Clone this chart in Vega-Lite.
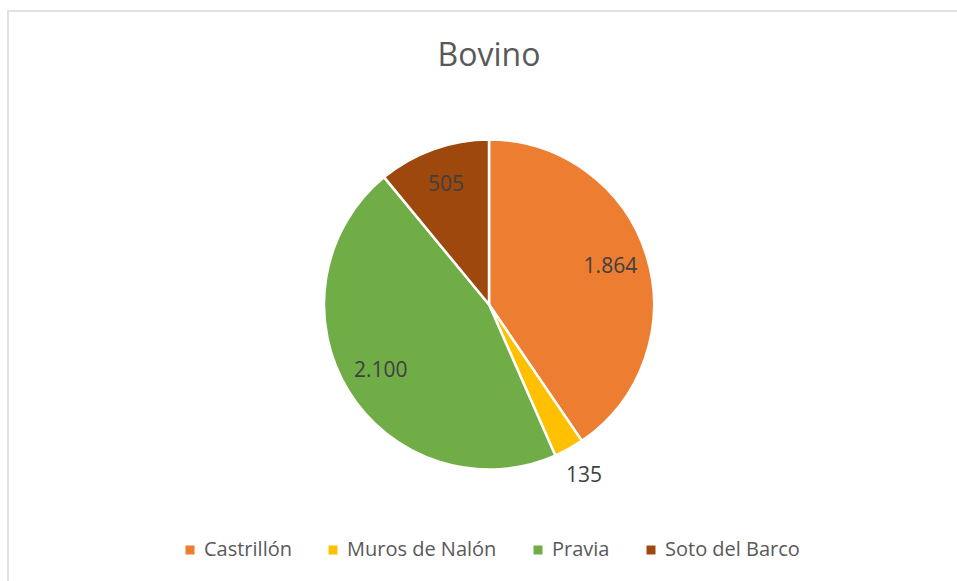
{
  "$schema": "https://vega.github.io/schema/vega-lite/v6.json",
  "autosize": {"type": "fit", "contains": "padding"},
  "width": 957,
  "height": 581,
  "padding": {"left": 7, "top": 10, "right": -14, "bottom": -18},
  "background": "white",
  "title": {
    "text": "Bovino",
    "font": "Open Sans",
    "fontSize": 32,
    "fontWeight": "normal",
    "color": "#595959",
    "anchor": "middle",
    "frame": "group",
    "offset": -63
  },
  "data": {
    "values": [
      {"Municipio": "Castrillón", "Bovinos": 1864},
      {"Municipio": "Muros de Nalón", "Bovinos": 135},
      {"Municipio": "Pravia", "Bovinos": 2100},
      {"Municipio": "Soto del Barco", "Bovinos": 505}
    ]
  },
  "layer": [
    {
      "data": {"values": [{"marco": "borde"}]},
      "mark": {"type": "rect", "filled": false, "stroke": "#d9d9d9", "strokeWidth": 1.5},
      "encoding": {}
    },
    {
      "mark": {"type": "arc", "outerRadius": 165, "stroke": "white", "strokeWidth": 2.5},
      "encoding": {
        "theta": {"field": "Bovinos", "type": "quantitative", "stack": true},
        "order": {"field": "Municipio", "type": "nominal", "sort": "ascending"},
        "color": {
          "field": "Municipio",
          "type": "nominal",
          "scale": {
            "domain": ["Castrillón", "Muros de Nalón", "Pravia", "Soto del Barco"],
            "range": ["#ED7D31", "#FFC000", "#70AD47", "#9E480E"]
          },
          "legend": {
            "orient": "none",
            "legendX": 172,
            "legendY": 529,
            "direction": "horizontal",
            "title": null,
            "padding": 0,
            "symbolType": "square",
            "symbolSize": 81,
            "symbolStrokeWidth": 0,
            "labelFont": "Open Sans",
            "labelFontSize": 20,
            "labelColor": "#595959",
            "labelOffset": 4,
            "labelLimit": 0,
            "columnPadding": 31
          }
        }
      }
    },
    {
      "mark": {"type": "text", "radius": 127, "font": "Open Sans", "fontSize": 21, "color": "#404040"},
      "encoding": {
        "theta": {"field": "Bovinos", "type": "quantitative", "stack": true},
        "order": {"field": "Municipio", "type": "nominal", "sort": "ascending"},
        "text": {
          "condition": {"test": "datum.Municipio === 'Muros de Nalón'", "value": ""},
          "field": "Bovinos",
          "type": "quantitative",
          "format": ",.0f"
        }
      }
    },
    {
      "mark": {"type": "text", "radius": 196, "font": "Open Sans", "fontSize": 21, "color": "#404040"},
      "encoding": {
        "theta": {"field": "Bovinos", "type": "quantitative", "stack": true},
        "order": {"field": "Municipio", "type": "nominal", "sort": "ascending"},
        "text": {
          "condition": {"test": "datum.Municipio !== 'Muros de Nalón'", "value": ""},
          "field": "Bovinos",
          "type": "quantitative",
          "format": ",.0f"
        }
      }
    }
  ],
  "config": {
    "locale": {
      "number": {"decimal": ",", "thousands": ".", "grouping": [3], "currency": ["", " €"]}
    }
  }
}
